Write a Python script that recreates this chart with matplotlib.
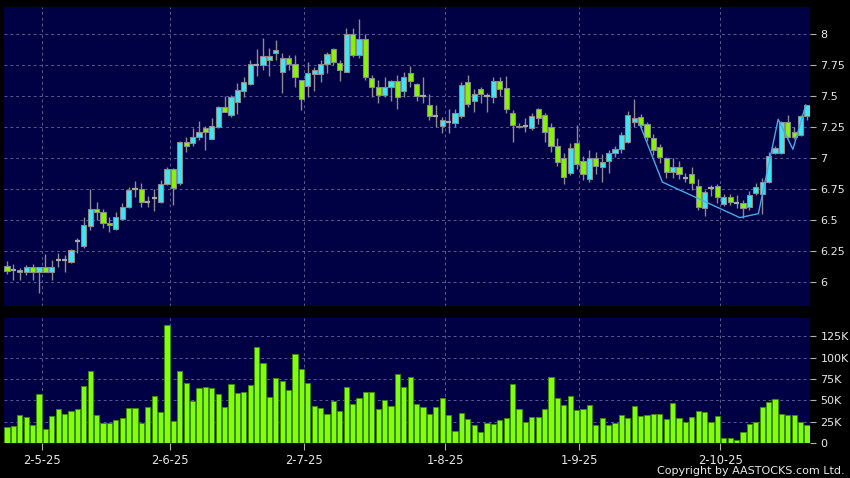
import matplotlib
matplotlib.use("Agg")
import matplotlib.pyplot as plt
import numpy as np

opens = [6.132, 6.097, 6.097, 6.078, 6.124, 6.078, 6.124, 6.078, 6.175, 6.175,
         6.164, 6.333, 6.293, 6.454, 6.586, 6.562, 6.473, 6.43, 6.505, 6.602,
         6.747, 6.747, 6.642, 6.675, 6.642, 6.788, 6.909, 6.796, 7.127, 7.124,
         7.167, 7.24, 7.156, 7.248, 7.409, 7.347, 7.449, 7.54, 7.594, 7.75,
         7.75, 7.79, 7.844, 7.696, 7.804, 7.755, 7.629, 7.583, 7.675, 7.675,
         7.755, 7.876, 7.763, 7.696, 7.997, 7.831, 7.957, 7.648, 7.57, 7.505,
         7.575, 7.618, 7.543, 7.683, 7.597, 7.5, 7.425, 7.34, 7.261, 7.293,
         7.28, 7.341, 7.61, 7.462, 7.554, 7.5, 7.49, 7.624, 7.567, 7.365,
         7.25, 7.255, 7.239, 7.392, 7.347, 7.247, 7.1, 6.997, 6.882, 7.118,
         6.976, 6.828, 6.997, 6.925, 6.973, 7.038, 7.07, 7.132, 7.293, 7.328,
         7.274, 7.159, 7.092, 6.997, 6.89, 6.927, 6.836, 6.868, 6.777, 6.594,
         6.76, 6.777, 6.63, 6.683, 6.634, 6.634, 6.602, 6.715, 6.71, 6.809,
         7.043, 7.038, 7.293, 7.21, 7.185, 7.339]

closes = [6.089, 6.097, 6.081, 6.124, 6.078, 6.124, 6.078, 6.124, 6.175, 6.175,
          6.255, 6.333, 6.457, 6.586, 6.565, 6.473, 6.457, 6.522, 6.605, 6.739,
          6.747, 6.642, 6.642, 6.675, 6.788, 6.909, 6.755, 7.127, 7.097, 7.167,
          7.207, 7.21, 7.261, 7.409, 7.374, 7.495, 7.546, 7.61, 7.755, 7.75,
          7.823, 7.82, 7.871, 7.804, 7.755, 7.656, 7.473, 7.683, 7.71, 7.755,
          7.836, 7.777, 7.71, 7.997, 7.831, 7.957, 7.651, 7.57, 7.505, 7.575,
          7.618, 7.495, 7.656, 7.624, 7.5, 7.5, 7.339, 7.34, 7.304, 7.293,
          7.36, 7.589, 7.433, 7.516, 7.513, 7.5, 7.624, 7.554, 7.392, 7.266,
          7.26, 7.255, 7.341, 7.32, 7.212, 7.097, 6.97, 6.849, 7.078, 6.952,
          6.871, 6.997, 6.935, 6.968, 7.038, 7.07, 7.183, 7.344, 7.32, 7.266,
          7.167, 7.065, 7.011, 6.89, 6.927, 6.871, 6.836, 6.796, 6.602, 6.723,
          6.76, 6.683, 6.683, 6.642, 6.634, 6.594, 6.699, 6.763, 6.809, 7.016,
          7.078, 7.293, 7.172, 7.172, 7.339, 7.427]

highs = [6.169, 6.142, 6.116, 6.137, 6.145, 6.124, 6.226, 6.177, 6.231, 6.218,
         6.266, 6.352, 6.527, 6.75, 6.645, 6.586, 6.527, 6.565, 6.634, 6.763,
         6.815, 6.796, 6.696, 6.75, 6.823, 6.93, 6.917, 7.137, 7.167, 7.24,
         7.296, 7.258, 7.32, 7.42, 7.5, 7.51, 7.602, 7.656, 7.79, 7.879,
         7.965, 7.884, 7.952, 7.844, 7.83, 7.83, 7.629, 7.777, 7.737, 7.79,
         7.858, 7.884, 7.79, 8.046, 8.046, 8.118, 8.0, 7.67, 7.629, 7.656,
         7.629, 7.67, 7.697, 7.742, 7.602, 7.65, 7.516, 7.425, 7.333, 7.392,
         7.392, 7.616, 7.669, 7.56, 7.575, 7.527, 7.651, 7.651, 7.661, 7.39,
         7.282, 7.325, 7.36, 7.4, 7.36, 7.28, 7.16, 7.04, 7.124, 7.266,
         7.016, 7.065, 7.05, 7.03, 7.065, 7.097, 7.212, 7.382, 7.473, 7.355,
         7.288, 7.194, 7.113, 7.011, 7.0, 6.973, 6.876, 6.93, 6.828, 6.742,
         6.78, 6.79, 6.71, 6.71, 6.70, 6.66, 6.73, 6.795, 6.836, 7.051,
         7.1, 7.30, 7.347, 7.25, 7.345, 7.427]

lows = [6.062, 6.016, 6.016, 6.056, 6.016, 5.914, 6.078, 6.016, 6.124, 6.083,
        6.156, 6.231, 6.272, 6.419, 6.5, 6.433, 6.406, 6.419, 6.5, 6.594,
        6.688, 6.602, 6.602, 6.575, 6.635, 6.78, 6.621, 6.78, 7.051, 7.097,
        7.145, 7.065, 7.15, 7.24, 7.37, 7.33, 7.352, 7.495, 7.59, 7.661,
        7.71, 7.664, 7.79, 7.527, 7.71, 7.575, 7.387, 7.495, 7.543, 7.615,
        7.683, 7.75, 7.624, 7.696, 7.817, 7.804, 7.63, 7.489, 7.446, 7.49,
        7.462, 7.395, 7.495, 7.575, 7.46, 7.44, 7.31, 7.252, 7.204, 7.204,
        7.248, 7.325, 7.41, 7.374, 7.446, 7.374, 7.446, 7.5, 7.36, 7.132,
        7.24, 7.21, 7.226, 7.275, 7.132, 7.051, 6.935, 6.79, 6.866, 6.91,
        6.823, 6.81, 6.87, 6.804, 6.878, 7.011, 7.038, 7.118, 7.253, 7.247,
        7.14, 7.027, 6.957, 6.836, 6.836, 6.828, 6.809, 6.742, 6.581, 6.532,
        6.69, 6.64, 6.61, 6.62, 6.594, 6.513, 6.58, 6.70, 6.548, 6.80,
        7.03, 7.03, 7.16, 7.15, 7.18, 7.31]

volumes_k = [19, 20, 32.6, 31, 21, 57, 16.7, 32, 40, 34.5,
             37.6, 39.6, 67.5, 85, 33, 23.7, 23.7, 27, 29.5, 41,
             40.7, 23.7, 42.7, 54.7, 37, 137.7, 25.6, 84.6, 71, 49.7,
             64.4, 65.6, 64.4, 57.4, 42, 69, 58.6, 60, 68, 112.5,
             94, 54, 76, 72.5, 62, 104.8, 87, 70, 44, 41.5,
             34, 49, 37.6, 66, 45.8, 52.8, 60.5, 60.5, 40, 50,
             43.5, 81, 66, 78, 46, 42.7, 34, 42.3, 52.4, 32.6,
             14.7, 35.7, 28.7, 21, 12.8, 23.7, 23, 27, 30, 68.7,
             40, 25, 31, 31, 40, 78, 52.8, 44.6, 55, 38.8,
             39.6, 44.6, 21, 30, 21.3, 24, 32.6, 29, 43.8, 31.8,
             33.4, 34.5, 34.5, 28.7, 47, 30, 24.4, 30.7, 37.6, 36,
             24.8, 31.8, 6.6, 6.2, 3.9, 12.8, 22.5, 24.8, 42.3, 47.7,
             51.2, 33.8, 33, 33.4, 25.2, 21.7]

date_idx = [5, 25, 46, 68, 89, 111]
date_labels = ["2-5-25", "2-6-25", "2-7-25", "1-8-25", "1-9-25", "2-10-25"]
price_ticks = [6, 6.25, 6.5, 6.75, 7, 7.25, 7.5, 7.75, 8]
vol_ticks_k = [0, 25, 50, 75, 100, 125]

pattern_x = [98.8, 102.4, 114.5, 117.4, 120.5, 122.8, 124.8]
pattern_y = [7.28, 6.806, 6.519, 6.551, 7.312, 7.07, 7.427]

# ---------------------------------------------------------------
o = np.array(opens); c = np.array(closes)
h = np.array(highs); l = np.array(lows)
v = np.array(volumes_k)
x = np.arange(len(o))

BG = "#000044"
GRID = "#5a5a90"
CYAN = "#3ee6f4"
GREEN = "#86f500"
EDGE = "#8c8c8c"
TXT = "#e8e8e8"

fig = plt.figure(figsize=(8.5, 4.78), dpi=100, facecolor="black")
ax1 = fig.add_axes([4/850, 172/478, 806/850, 299/478], facecolor=BG)
ax2 = fig.add_axes([4/850, 34.7/478, 806/850, 125/478], facecolor=BG)

W = 0.82
up = c > o
dn = c < o
dj = c == o

ax1.vlines(x, l, h, color=EDGE, lw=1.0, zorder=2)
ax1.bar(x[up], (c - o)[up], bottom=o[up], width=W, color=CYAN,
        edgecolor=EDGE, linewidth=0.8, zorder=3)
ax1.bar(x[dn], (o - c)[dn], bottom=c[dn], width=W, color=GREEN,
        edgecolor=EDGE, linewidth=0.8, zorder=3)
ax1.hlines(o[dj], x[dj] - W/2, x[dj] + W/2, color="#a8a8a8", lw=1.6, zorder=3)
ax1.plot(pattern_x, pattern_y, color="#4aa8e8", lw=1.0, zorder=4)

ax2.bar(x, v, width=W, color="#80ff10", edgecolor="#3d8a00", linewidth=0.7, zorder=3)

xlim = (-0.47, 125.47)
for ax in (ax1, ax2):
    ax.set_xlim(*xlim)
    for s in ax.spines.values():
        s.set_visible(False)
    ax.set_axisbelow(True)
    ax.grid(True, color=GRID, linestyle=(0, (3, 3)), linewidth=0.7)
    ax.yaxis.tick_right()
    ax.tick_params(axis="y", direction="out", length=4, width=0.8, color="#b0b0b0",
                   labelcolor=TXT, labelsize=8, pad=3.5)
    ax.set_xticks([d + 0.45 for d in date_idx])

ax1.set_ylim(5.806, 8.218)
ax1.set_yticks(price_ticks)
ax1.set_yticklabels([f"{t:g}" for t in price_ticks])
ax1.tick_params(axis="x", length=0, labelbottom=False)

ax2.set_ylim(0, 146)
ax2.set_yticks(vol_ticks_k)
ax2.set_yticklabels(["0"] + [f"{t}K" for t in vol_ticks_k[1:]])
ax2.set_xticklabels(date_labels)
ax2.tick_params(axis="x", direction="out", length=5, width=0.8, color="#b0b0b0",
                labelcolor=TXT, labelsize=8.3, pad=2.5)

fig.text(845/850, 6.5/478, "Copyright by AASTOCKS.com Ltd.", ha="right", va="center",
         color=TXT, fontsize=8)

fig.savefig("out.png", dpi=100, facecolor="black")
